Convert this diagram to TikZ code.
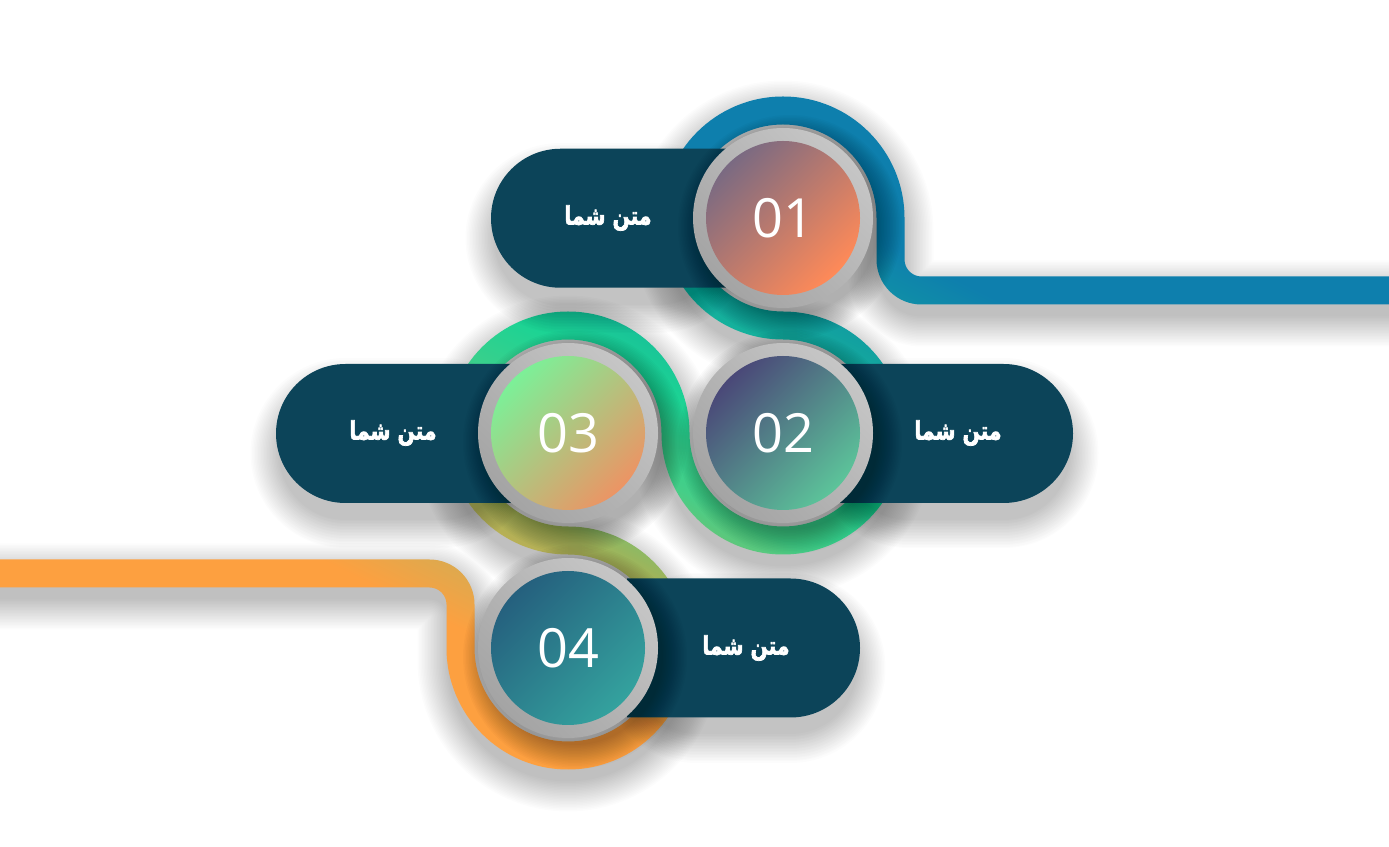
\documentclass[tikz,border=0pt]{standalone}
\usepackage{fontspec}
\newfontfamily\arabicfont[Script=Arabic, BoldFeatures={FakeBold=3}]{DejaVu Sans}
\newfontfamily\numfont{Open Sans}
\TeXXeTstate=1
\definecolor{tblue}{HTML}{0E7FAD}
\definecolor{tteal}{HTML}{12A0A0}
\definecolor{tgreen}{HTML}{1CD394}
\definecolor{tlgreen}{HTML}{45CE88}
\definecolor{tolive}{HTML}{A0B45A}
\definecolor{tyellow}{HTML}{DEA94E}
\definecolor{torange}{HTML}{FDA040}
\definecolor{pillc}{HTML}{0C4459}
\definecolor{ringlight}{HTML}{C6C6C6}
\definecolor{ringdark}{HTML}{A4A4A4}
\definecolor{cAa}{HTML}{7A6A82}
\definecolor{cAb}{HTML}{FF8A58}
\definecolor{cBa}{HTML}{4A4878}
\definecolor{cBb}{HTML}{5CC49A}
\definecolor{cCa}{HTML}{7CF098}
\definecolor{cCb}{HTML}{EC9464}
\definecolor{cDa}{HTML}{25607E}
\definecolor{cDb}{HTML}{34A29E}
\pgfdeclarehorizontalshading{trackshade}{100bp}{color(0bp)=(tblue); color(43.9bp)=(tblue); color(46.36bp)=(tteal); color(49.71bp)=(tgreen); color(51.72bp)=(tlgreen); color(53.96bp)=(tolive); color(55.97bp)=(tyellow); color(57.31bp)=(torange); color(100bp)=(torange)}
\newcommand{\mytxt}{\scalebox{0.92}[1.15]{\beginR متن شما\endR}}
\begin{document}
\begin{tikzpicture}[x=1pt,y=1pt,
  trackpath/.style={insert path={(1400,555.5) -- (921.5,555.5) arc[start angle=270,end angle=180,radius=31] -- (890.5,628) arc[start angle=0,end angle=270,radius=107.5] arc[start angle=90,end angle=-180,radius=107.5] arc[start angle=0,end angle=270,radius=107.5] arc[start angle=90,end angle=-180,radius=107.5] -- (460.5,241.5) arc[start angle=0,end angle=90,radius=31] -- (-10,272.5)}},
  ringc/.style={circle, minimum size=180, inner sep=0, draw=none},
  disc/.style={circle, minimum size=154, inner sep=0, draw=none, text=white, font=\numfont\fontsize{54}{60}\selectfont},
  lbl/.style={text=white, inner sep=0, font=\arabicfont\bfseries\fontsize{22}{26}\selectfont},
  shd/.style={black, opacity=0.011}]
\useasboundingbox (0,0) rectangle (1389,846);
\clip (0,0) rectangle (1389,846);
\fill[white] (0,0) rectangle (1389,846);
% track shadow
\foreach \e in {0,1.5,...,30}{
  \pgfmathsetmacro\w{26+2*\e}
  \draw[shd, line width=\w pt, line join=round, yshift=-13pt, trackpath];
}
% track
\begin{scope}
\clip (921.5,541.5) rectangle (1400,569.5)
  (921.5,541.5) arc[start angle=270,end angle=180,radius=45] -- ++(28,0) arc[start angle=180,end angle=270,radius=17] -- cycle
  (876.5,586.5) rectangle (904.5,628)
  (904.5,628) arc[start angle=0,end angle=270,radius=121.5] -- (783,534.5) arc[start angle=270,end angle=0,radius=93.5] -- cycle
  (783,534.5) arc[start angle=90,end angle=-180,radius=121.5] -- (689.5,413) arc[start angle=-180,end angle=90,radius=93.5] -- cycle
  (689.5,413) arc[start angle=0,end angle=270,radius=121.5] -- (568,319.5) arc[start angle=270,end angle=0,radius=93.5] -- cycle
  (568,319.5) arc[start angle=90,end angle=-180,radius=121.5] -- (474.5,198) arc[start angle=-180,end angle=90,radius=93.5] -- cycle
  (446.5,198) rectangle (474.5,241.5)
  (474.5,241.5) arc[start angle=0,end angle=90,radius=45] -- (429.5,258.5) arc[start angle=90,end angle=0,radius=17] -- cycle
  (-10,258.5) rectangle (429.5,286.5);
\shade[shading=trackshade, shading angle=243.43] (-300,-577) rectangle (1700,1423);
\end{scope}
% pill shadows
\foreach \e in {0,1.5,...,28.5}{
  \pgfmathsetmacro\w{133+2*\e}
  \draw[shd, line width=\w pt, line cap=round] (560.5,607.5) -- (657.5,607.5);
  \draw[shd, line width=\w pt, line cap=round] (345.5,392.5) -- (442.5,392.5);
  \draw[shd, line width=\w pt, line cap=round] (908.5,392.5) -- (1003.5,392.5);
  \draw[shd, line width=\w pt, line cap=round] (696.5,178) -- (790.5,178);
}
% pills
\fill[pillc] (727,697.25) -- (560.5,697.25) arc[start angle=90,end angle=270,radius=69.5] -- (727,558.25) -- cycle;
\fill[pillc] (512,482) -- (345.5,482) arc[start angle=90,end angle=270,radius=69.5] -- (512,343) -- cycle;
\fill[pillc] (839,343) -- (1003.5,343) arc[start angle=-90,end angle=90,radius=69.5] -- (839,482) -- cycle;
\fill[pillc] (627,128.5) -- (790.5,128.5) arc[start angle=-90,end angle=90,radius=69.5] -- (627,267.5) -- cycle;
% circle shadows
\foreach \e in {0,1.5,...,24}{
  \pgfmathsetmacro\rr{88+\e}
  \fill[black, opacity=0.02] (790,619) circle[radius=\rr];
  \fill[black, opacity=0.02] (790,404) circle[radius=\rr];
  \fill[black, opacity=0.02] (575,404) circle[radius=\rr];
  \fill[black, opacity=0.02] (575,189) circle[radius=\rr];
}
% rings
\node[ringc, top color=ringlight, bottom color=ringdark, shading angle=-45] (r1) at (783,628) {};
\node[ringc, top color=ringlight, bottom color=ringdark, shading angle=-45] (r2) at (783,413) {};
\node[ringc, top color=ringlight, bottom color=ringdark, shading angle=-45] (r3) at (568,413) {};
\node[ringc, top color=ringlight, bottom color=ringdark, shading angle=-45] (r4) at (568,198) {};
% discs with numbers
\node[disc, top color=cAa, bottom color=cAb, shading angle=45] (n1) at (r1) {01};
\node[disc, top color=cBa, bottom color=cBb, shading angle=45] (n2) at (r2) {02};
\node[disc, top color=cCa, bottom color=cCb, shading angle=45] (n3) at (r3) {03};
\node[disc, top color=cDa, bottom color=cDb, shading angle=45] (n4) at (r4) {04};
% labels
\node[lbl] (t1) at (608,628) {\mytxt};
\node[lbl] (t2) at (958,413) {\mytxt};
\node[lbl] (t3) at (393,413) {\mytxt};
\node[lbl] (t4) at (746,198) {\mytxt};
\end{tikzpicture}
\end{document}
